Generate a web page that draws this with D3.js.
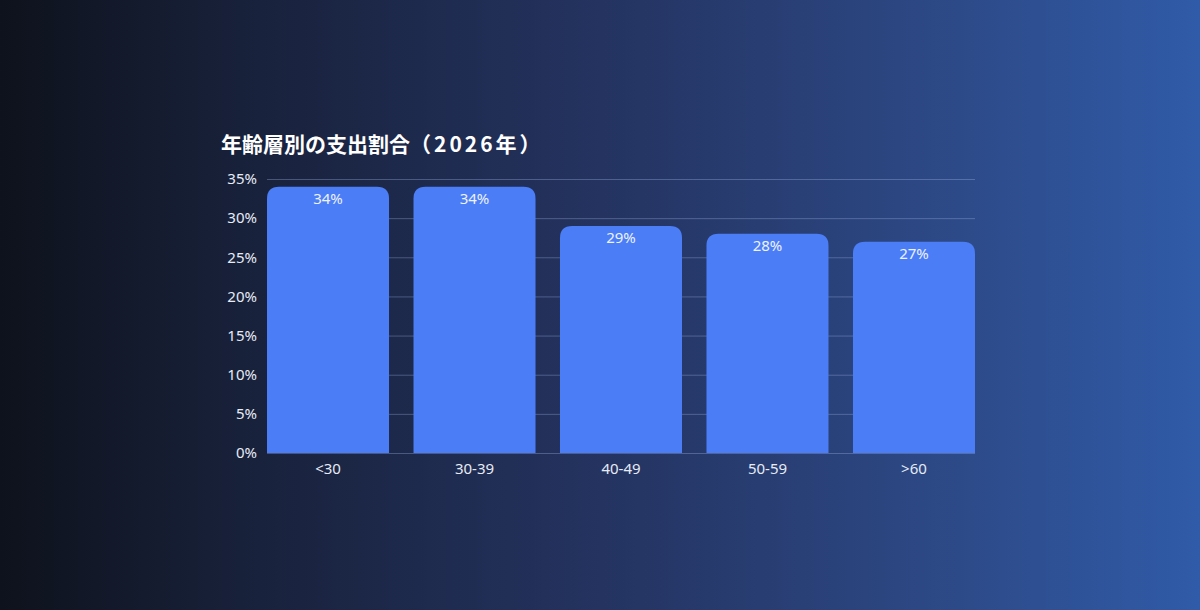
<!DOCTYPE html>
<html><head><meta charset="utf-8">
<script src="https://cdn.jsdelivr.net/npm/d3@7/dist/d3.min.js"></script>
<style>html,body{margin:0;padding:0;background:#151c2e;}svg{display:block;}</style>
</head><body>
<svg id="chart" width="1200" height="610"></svg>
<script>
const titleMain = "年齢層別の支出割合";
const titleYear = "（2026年）";
const categories = ["<30", "30-39", "40-49", "50-59", ">60"];
const values = [34, 34, 29, 28, 27];
const yTicks = [0, 5, 10, 15, 20, 25, 30, 35];

const svg = d3.select("#chart");
const defs = svg.append("defs");
const bg = defs.append("linearGradient").attr("id","bg").attr("x1","0").attr("x2","1").attr("y1","0").attr("y2","0");
[[0,"#0e121c"],[0.2,"#18213a"],[0.5,"#243360"],[0.8,"#2d4a88"],[1,"#305ba8"]].forEach(([o,c])=>bg.append("stop").attr("offset",o).attr("stop-color",c));
svg.append("rect").attr("width",1200).attr("height",610).attr("fill","url(#bg)");

const x0 = 267, x1 = 975, yBottom = 453, yTop = 179;
const x = d3.scaleBand().domain(categories).range([x0, x1]).paddingInner(0.167).paddingOuter(0);
const y = d3.scaleLinear().domain([0, 35]).range([yBottom, yTop]);

const font = "'Noto Sans', 'Noto Sans CJK JP', sans-serif";

// gridlines
svg.append("g").selectAll("line").data(yTicks).join("line")
  .attr("x1", x0).attr("x2", x1)
  .attr("y1", d => y(d) + 0.5).attr("y2", d => y(d) + 0.5)
  .attr("stroke", "rgba(160,180,230,0.35)").attr("stroke-width", 1);

// y axis labels
const yAxis = d3.axisLeft(y).tickValues(yTicks).tickFormat(d => d + "%").tickSize(0).tickPadding(10);
const ga = svg.append("g").attr("transform", `translate(${x0},0)`).call(yAxis);
ga.select(".domain").remove();
ga.selectAll("text").attr("fill", "#e6ebf5").attr("font-size", 15).attr("font-family", font);

// x axis labels
const xAxis = d3.axisBottom(x).tickSize(0).tickPadding(10);
const gx = svg.append("g").attr("transform", `translate(0,${yBottom})`).call(xAxis);
gx.select(".domain").remove();
gx.selectAll("text").attr("fill", "#e6ebf5").attr("font-size", 15).attr("font-family", font);

// bars with rounded top
const r = 12;
function barPath(d, i) {
  const bx = x(categories[i]), bw = x.bandwidth(), top = y(d), bot = y(0);
  return `M${bx},${bot} V${top + r} Q${bx},${top} ${bx + r},${top} H${bx + bw - r} Q${bx + bw},${top} ${bx + bw},${top + r} V${bot} Z`;
}
svg.append("g").selectAll("path").data(values).join("path")
  .attr("d", barPath).attr("fill", "#4a7df6");

// value labels
svg.append("g").selectAll("text").data(values).join("text")
  .attr("x", (d, i) => x(categories[i]) + x.bandwidth() / 2)
  .attr("y", d => y(d) + 17)
  .attr("text-anchor", "middle")
  .attr("fill", "#eef2fb").attr("font-size", 15).attr("font-family", font)
  .text(d => d + "%");

// title
const t = svg.append("text").attr("x", 221).attr("y", 152)
  .attr("fill", "#ffffff").attr("font-size", 21).attr("font-weight", "bold")
  .attr("font-family", "'Noto Sans CJK JP', sans-serif");
t.append("tspan").text(titleMain);
t.append("tspan").attr("letter-spacing", 3).text(titleYear);
</script>
</body></html>
